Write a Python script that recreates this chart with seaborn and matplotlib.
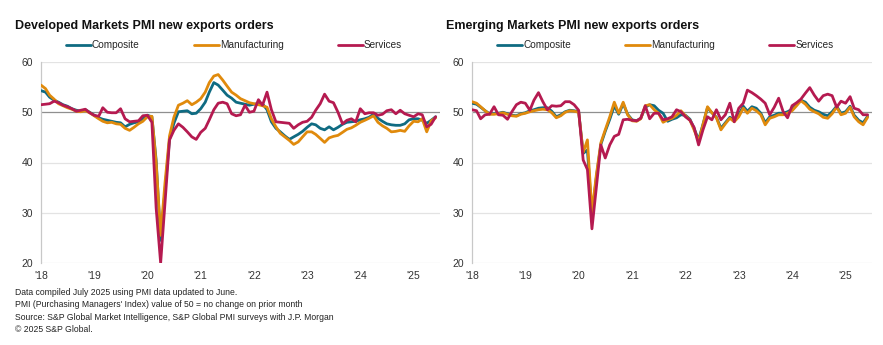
import numpy as np
import pandas as pd
import matplotlib
matplotlib.use("Agg")
import matplotlib.pyplot as plt
from matplotlib.lines import Line2D
import seaborn as sns

# Monthly PMI new export orders, Jan 2018 - Jun 2025
months = pd.date_range("2018-01-01", periods=90, freq="MS")

dm_composite = [
    54.3, 54.0, 53.0, 52.4, 52.0, 51.5, 51.2, 50.7, 50.4, 50.2, 50.5, 50.0,
    49.4, 48.9, 48.6, 48.4, 48.2, 48.0, 47.9, 47.1, 47.6, 47.9, 48.1, 48.7,
    49.4, 49.1, 40.5, 24.5, 34.5, 44.6, 47.8, 50.1, 50.2, 50.3, 49.7, 49.8,
    50.7, 52.0, 54.0, 55.9, 55.4, 54.4, 53.4, 52.8, 52.0, 51.8, 51.6, 51.4,
    51.6, 51.7, 51.7, 50.5, 48.1, 46.8, 46.1, 45.3, 44.6, 45.1, 45.6, 46.2,
    47.0, 47.7, 47.5, 46.8, 46.5, 47.1, 46.5, 47.0, 47.6, 48.0, 48.1, 48.2,
    48.5, 48.7, 49.0, 49.6, 48.8, 48.2, 47.7, 47.5, 47.4, 47.4, 47.7, 48.5,
    48.7, 48.7, 48.4, 47.8, 48.4, 49.1,
]
dm_manufacturing = [
    55.4, 54.7, 53.4, 52.6, 51.7, 51.3, 50.9, 50.6, 50.2, 50.1, 50.3, 49.9,
    49.3, 48.7, 48.2, 47.9, 48.0, 47.7, 47.6, 46.8, 46.4, 47.0, 47.7, 48.2,
    49.1, 49.2, 40.0, 25.5, 36.0, 45.3, 49.0, 51.4, 51.8, 52.3, 51.5, 52.0,
    52.7, 54.0, 55.9, 57.2, 57.5, 56.4, 55.2, 54.0, 53.4, 52.7, 52.3, 51.9,
    51.7, 51.5, 51.3, 51.0, 48.7, 47.1, 45.8, 45.1, 44.4, 43.6, 44.1, 45.1,
    46.1, 46.1, 45.6, 44.8, 44.0, 44.9, 45.2, 45.4, 46.0, 46.6, 46.9, 47.4,
    48.0, 48.4, 48.8, 49.3, 48.0, 47.3, 46.8, 46.1, 46.2, 46.4, 46.2, 47.3,
    48.2, 48.1, 48.7, 46.1, 48.3, 48.9,
]
dm_services = [
    51.5, 51.6, 51.7, 52.2, 51.9, 51.4, 51.1, 50.7, 50.2, 50.4, 50.6, 49.9,
    49.4, 49.2, 50.9, 50.0, 49.9, 49.9, 50.7, 48.7, 48.1, 48.2, 48.3, 49.3,
    49.4, 48.0, 31.0, 20.0, 32.0, 44.5, 46.4, 47.7, 47.0, 46.1, 45.1, 44.6,
    46.0, 46.8, 48.5, 50.5, 51.8, 52.0, 51.7, 49.7, 49.3, 49.5, 51.4, 50.0,
    50.2, 52.5, 51.4, 54.0, 50.5, 48.1, 48.0, 47.9, 47.8, 46.8, 47.5, 48.0,
    48.2, 49.0, 50.4, 51.7, 53.6, 52.2, 51.9, 50.0, 47.7, 48.4, 48.7, 48.1,
    50.7, 49.7, 49.9, 49.9, 49.4, 49.6, 50.3, 50.5, 49.7, 50.4, 49.7, 49.4,
    49.1, 49.7, 49.5, 47.1, 47.6, 49.1,
]

em_composite = [
    51.8, 51.6, 51.0, 50.3, 49.7, 49.7, 49.8, 50.0, 49.7, 49.4, 49.3, 49.7,
    49.9, 50.3, 50.5, 50.8, 50.9, 50.9, 50.2, 49.1, 49.5, 50.1, 50.4, 50.3,
    50.1, 41.8, 42.5, 29.5, 37.0, 43.6, 46.2, 48.6, 51.3, 49.6, 51.7, 49.6,
    48.5, 48.3, 48.8, 51.0, 51.5, 51.3, 50.4, 49.8, 48.2, 48.6, 48.9, 49.5,
    49.4, 48.6, 46.8, 44.5, 47.6, 50.9, 49.9, 49.0, 46.8, 47.9, 49.0, 48.4,
    49.5, 51.2, 50.2, 51.1, 50.8, 49.8, 47.9, 49.1, 49.4, 49.8, 49.8, 50.1,
    50.6, 51.5, 52.4, 52.0, 51.0, 50.4, 50.1, 49.6, 49.3, 50.1, 51.2, 49.8,
    50.1, 51.2, 49.4, 48.4, 47.9, 49.2,
]
em_manufacturing = [
    52.1, 51.8, 51.1, 50.3, 49.6, 49.6, 49.7, 49.9, 49.6, 49.3, 49.2, 49.6,
    49.8, 50.1, 50.3, 50.5, 50.6, 50.5, 49.9, 48.9, 49.3, 50.0, 50.3, 50.2,
    50.0, 42.0, 44.5, 30.0, 37.5, 43.9, 46.5, 49.1, 52.0, 49.8, 52.0, 49.5,
    48.3, 48.2, 48.7, 51.3, 51.5, 50.5, 49.8, 48.0, 48.5, 48.8, 49.4, 50.3,
    49.3, 48.4, 46.5, 44.2, 47.5, 51.1, 49.9, 48.9, 46.5, 47.7, 48.8, 48.1,
    49.1, 50.8, 49.8, 50.8, 50.3, 49.5, 47.5, 48.8, 49.1, 49.5, 49.5, 49.8,
    50.3, 51.3, 52.3, 51.6, 50.6, 50.1, 49.7, 49.0, 48.8, 49.7, 51.0, 49.5,
    49.8, 51.0, 49.1, 48.1, 47.5, 49.0,
]
em_services = [
    50.5, 50.3, 48.7, 49.5, 49.6, 51.1, 49.5, 49.4, 48.6, 50.1, 51.5, 52.0,
    51.8, 50.4, 52.4, 53.9, 52.1, 50.5, 51.3, 51.2, 51.3, 52.1, 52.1, 51.5,
    50.4, 40.5, 38.6, 26.8, 35.0, 43.5, 40.9, 43.5, 45.2, 45.6, 48.5, 48.6,
    48.4, 48.3, 48.8, 51.3, 48.7, 49.8, 49.8, 48.5, 48.7, 49.1, 50.5, 50.1,
    49.1, 48.4, 47.0, 43.5, 46.5, 49.1, 48.5, 50.5, 48.5, 49.5, 51.8, 48.1,
    50.8, 51.8, 54.4, 53.9, 53.3, 52.6, 51.8, 49.5, 51.0, 52.8, 50.1, 48.9,
    51.3, 51.9, 52.6, 53.8, 54.9, 53.4, 52.2, 53.3, 53.6, 53.3, 51.0, 52.2,
    51.8, 53.1, 50.8, 50.5, 49.5, 49.5,
]

series_names = ["Composite", "Manufacturing", "Services"]
palette = {"Composite": "#0f6b82", "Manufacturing": "#e08a0c", "Services": "#b51a50"}
year_labels = ["'18", "'19", "'20", "'21", "'22", "'23", "'24", "'25"]

panels = [
    ("Developed Markets PMI new exports orders",
     [dm_composite, dm_manufacturing, dm_services]),
    ("Emerging Markets PMI new exports orders",
     [em_composite, em_manufacturing, em_services]),
]

sns.set_style("white")
plt.rcParams["font.family"] = ["Liberation Sans", "DejaVu Sans"]

W, H = 883, 345
fig = plt.figure(figsize=(W / 100, H / 100), dpi=100)

axes_px = [(41, 440), (472, 872)]  # left/right pixel edges of each plot area
top_px, bottom_px = 62, 263
title_x_px = [15, 446]

for (title, values), (x0, x1), tx in zip(panels, axes_px, title_x_px):
    ax = fig.add_axes([x0 / W, 1 - bottom_px / H, (x1 - x0) / W, (bottom_px - top_px) / H])
    frames = []
    for name, vals in zip(series_names, values):
        frames.append(pd.DataFrame({"month": months, "value": vals, "series": name}))
    df = pd.concat(frames, ignore_index=True)

    for y in (20, 30, 40, 60):
        ax.axhline(y, color="#e3e3e3", lw=0.9, zorder=0)
    ax.axhline(50, color="#8f8f8f", lw=0.9, zorder=1)

    sns.lineplot(data=df, x="month", y="value", hue="series", hue_order=series_names,
                 palette=palette, linewidth=2.0, legend=False, ax=ax, zorder=3)

    ax.set_ylim(20, 60)
    ax.set_yticks([20, 30, 40, 50, 60])
    ax.set_xlim(pd.Timestamp("2018-01-01"), pd.Timestamp("2025-07-01"))
    ax.set_xticks(pd.date_range("2018-01-01", periods=8, freq="YS"))
    ax.set_xticklabels(year_labels)
    ax.set_xlabel("")
    ax.set_ylabel("")
    ax.tick_params(axis="both", length=0, labelsize=7.5, colors="#333333")
    ax.tick_params(axis="x", pad=6)
    ax.tick_params(axis="y", pad=5.5)
    for s in ("top", "right", "bottom"):
        ax.spines[s].set_visible(False)
    ax.spines["left"].set_color("#c8c8c8")
    ax.spines["left"].set_linewidth(0.9)

    fig.text(tx / W, 1 - 26 / H, title, fontsize=9, fontweight="bold",
             va="center", ha="left", color="#111111")

    handles = [Line2D([0], [0], color=palette[n], lw=2.0) for n in series_names]
    ax.legend(handles, series_names, loc="center", ncol=3,
              bbox_to_anchor=(0.483, 1 + 17 / (bottom_px - top_px)),
              frameon=False, fontsize=7.2, handlelength=2.5, handletextpad=0.12,
              columnspacing=5.4, borderaxespad=0)

footer = [
    "Data compiled July 2025 using PMI data updated to June.",
    "PMI (Purchasing Managers' Index) value of 50 = no change on prior month",
    "Source: S&P Global Market Intelligence, S&P Global PMI surveys with J.P. Morgan",
    "\u00a9 2025 S&P Global.",
]
for i, line in enumerate(footer):
    fig.text(15 / W, 1 - (292.5 + 12.3 * i) / H, line, fontsize=6.2, va="center",
             ha="left", color="#222222")

fig.savefig("out.png", dpi=100, facecolor="white")
